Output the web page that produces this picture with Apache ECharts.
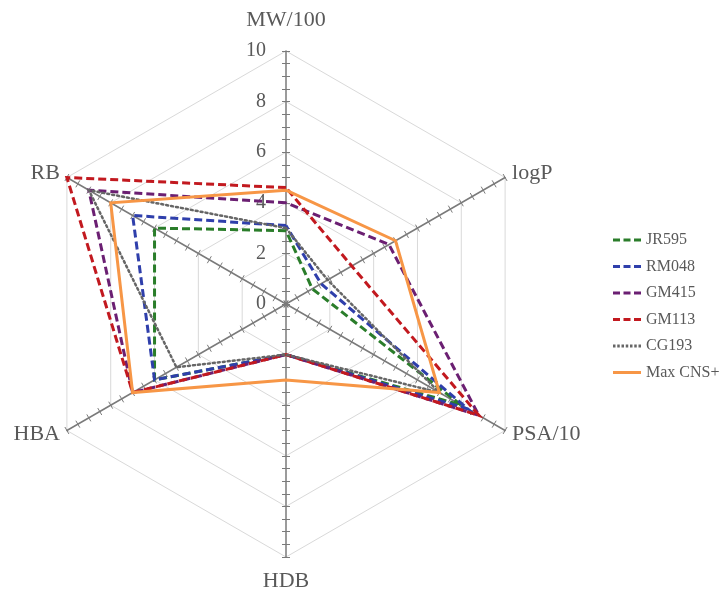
<!DOCTYPE html>
<html>
<head>
<meta charset="utf-8">
<script src="https://cdn.jsdelivr.net/npm/echarts@6/dist/echarts.min.js"></script>
<style>html,body{margin:0;padding:0;background:#fff}#c{width:726px;height:589px}</style>
</head>
<body>
<div id="c"></div>
<script>
// Indicators (listed counter-clockwise starting at the top)
const indicatorNames = ['MW/100', 'RB', 'HBA', 'HDB', 'PSA/10', 'logP'];
const axisMax = 10;
const tickLabels = [0, 2, 4, 6, 8, 10];

// Values in the same order as indicatorNames
const seriesNames = ['JR595', 'RM048', 'GM415', 'GM113', 'CG193', 'Max CNS+'];
const JR595    = [2.9, 6, 6, 2, 8.0, 1.2];
const RM048    = [3.1, 7, 6, 2, 8.3, 1.6];
const GM415    = [4.0, 9, 7, 2, 8.8, 4.7];
const GM113    = [4.6, 10, 7, 2, 8.8, 3.0];
const CG193    = [3.0, 9, 5, 2, 7.0, 1.9];
const MaxCNS   = [4.5, 8, 7, 3, 7.0, 5.0];
const seriesValues = [JR595, RM048, GM415, GM113, CG193, MaxCNS];

const colors = ['#2a7d2a', '#2f3fab', '#6b1f72', '#c2191f', '#666666', '#f79646'];
const dashes = [[8, 4], [8, 4], [8, 4], [8, 4], [2, 3], 'solid'];
const widths = [3, 3, 3, 3, 2.5, 3];

const dashIcon = 'path://M0,0h7v3h-7z M10.5,0h7v3h-7z M21,0h7v3h-7z';
let dotPath = 'path://';
for (let i = 0; i < 7; i++) { const x = i * 4.25; dotPath += 'M' + x + ',0h2.5v3h-2.5z '; }
const solidIcon = 'path://M0,0h28v3h-28z';
const icons = [dashIcon, dashIcon, dashIcon, dashIcon, dotPath, solidIcon];

const FONT = '"Liberation Serif", "DejaVu Serif", serif';
const TXT = '#595959';
const AX = '#7a7a7a';
const center = [286, 304];
const radius = 253;

const indicators = indicatorNames.map(n => ({ name: n, min: 0, max: axisMax }));

function tickRadar(len) {
  return {
    center: center, radius: radius, startAngle: 90, splitNumber: 20, shape: 'polygon',
    indicator: indicators,
    axisName: { show: false },
    axisLine: { show: false },
    splitLine: { show: false },
    splitArea: { show: false },
    axisLabel: { show: false },
    axisTick: { show: true, length: len, lineStyle: { color: AX, width: 1 } }
  };
}

const chart = echarts.init(document.getElementById('c'));
chart.setOption({
  animation: false,
  backgroundColor: '#ffffff',
  textStyle: { fontFamily: FONT },
  legend: {
    orient: 'vertical', left: 608, top: 227, itemGap: 10.5,
    itemWidth: 28, itemHeight: 3,
    textStyle: { fontFamily: FONT, fontSize: 16, color: TXT },
    data: seriesNames.map((n, i) => ({ name: n, icon: icons[i], itemStyle: { color: colors[i] } }))
  },
  grid: { left: center[0], top: center[1] - radius, width: 1, height: radius },
  xAxis: { type: 'value', show: false },
  yAxis: {
    type: 'value', min: 0, max: axisMax, interval: 2,
    axisLine: { show: false }, axisTick: { show: false }, splitLine: { show: false },
    axisLabel: { margin: 20, fontSize: 20, fontFamily: FONT, color: TXT,
      customValues: tickLabels }
  },
  radar: [
    {
      center: center, radius: radius, startAngle: 90, splitNumber: 5, shape: 'polygon',
      indicator: indicators,
      axisName: {
        color: TXT, fontSize: 22, fontFamily: FONT,
        formatter: function (name) {
          if (name === 'MW/100') return '{top|' + name + '}';
          if (name === 'HDB') return '{bot|' + name + '}';
          return name;
        },
        rich: {
          top: { color: TXT, fontSize: 22, fontFamily: FONT, padding: [0, 0, 12, 0] },
          bot: { color: TXT, fontSize: 22, fontFamily: FONT, padding: [5, 0, 0, 0] }
        }
      },
      nameGap: 8,
      axisLine: { lineStyle: { color: AX, width: 1.5 } },
      splitLine: { lineStyle: { color: '#d9d9d9', width: 1 } },
      splitArea: { show: false },
      axisTick: { show: false },
      axisLabel: { show: false }
    },
    tickRadar(4),
    tickRadar(-4)
  ],
  series: seriesNames.map((n, i) => ({
    type: 'radar', radarIndex: 0, name: n, symbol: 'none', silent: true,
    itemStyle: { color: colors[i] },
    lineStyle: { color: colors[i], width: widths[i], type: dashes[i], cap: i === 4 ? 'round' : 'butt', join: 'miter' },
    data: [{ value: seriesValues[i], name: n }]
  }))
});
</script>
</body>
</html>
